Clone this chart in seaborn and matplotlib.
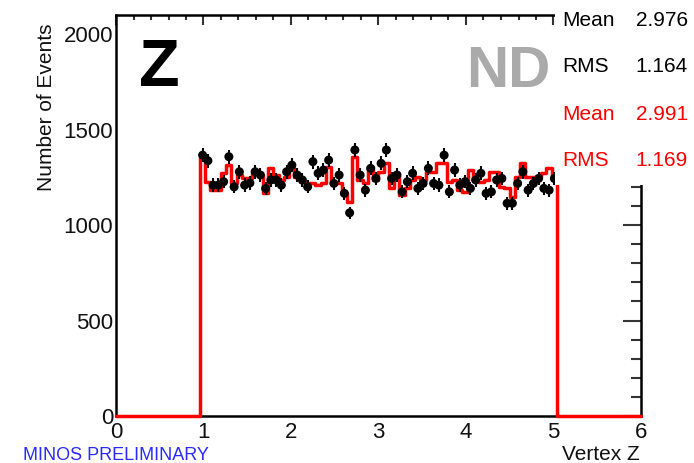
import numpy as np
import pandas as pd
import matplotlib
matplotlib.use("Agg")
import matplotlib.pyplot as plt
from matplotlib.patches import Rectangle
from matplotlib.ticker import MultipleLocator
import seaborn as sns

# Vertex Z distribution, 0.06-wide bins filled between z = 0.96 and z = 5.04
z_min, z_max, n_bins = 0.0, 6.0, 100
first_bin = 16

data_counts = [
    1366, 1337, 1209, 1209, 1227, 1358, 1200, 1279, 1209, 1220,
    1279, 1262, 1192, 1236, 1236, 1209, 1279, 1314, 1262, 1236,
    1200, 1332, 1271, 1288, 1340, 1218, 1262, 1166, 1064, 1393,
    1262, 1183, 1297, 1244, 1323, 1393, 1244, 1262, 1174, 1227,
    1271, 1192, 1218, 1297, 1218, 1209, 1366, 1174, 1288, 1209,
    1227, 1192, 1236, 1271, 1166, 1174, 1236, 1244, 1114, 1114,
    1218, 1279, 1183, 1218, 1244, 1192, 1183, 1244,
]

mc_counts = [
    1349, 1227, 1183, 1183, 1271, 1314, 1218, 1262, 1244, 1244,
    1271, 1262, 1166, 1297, 1262, 1236, 1253, 1297, 1253, 1227,
    1218, 1218, 1209, 1218, 1305, 1218, 1218, 1166, 1123, 1358,
    1236, 1218, 1305, 1236, 1279, 1323, 1192, 1271, 1157, 1192,
    1236, 1253, 1236, 1279, 1279, 1323, 1323, 1227, 1236, 1183,
    1174, 1288, 1236, 1227, 1236, 1279, 1279, 1201, 1192, 1148,
    1253, 1323, 1253, 1253, 1253, 1271, 1297, 1236,
]

stats_labels = ["Mean", "RMS", "Mean", "RMS"]
stats_values = ["2.976", "1.164", "2.991", "1.169"]
stats_colors = ["black", "black", "#ff0000", "#ff0000"]

width = (z_max - z_min) / n_bins
centers = z_min + (first_bin + np.arange(len(data_counts)) + 0.5) * width

df = pd.DataFrame({"z": centers, "data": data_counts, "mc": mc_counts})

sns.set_theme(style="white")
plt.rcParams["font.family"] = ["Liberation Sans", "DejaVu Sans"]

W, H = 694, 463
fig = plt.figure(figsize=(W / 100, H / 100), dpi=100)
left, right, top, bottom = 116, 641, 15, 416
ax = fig.add_axes([left / W, 1 - bottom / H, (right - left) / W, (bottom - top) / H])

# Simulation as a red step outline
sns.histplot(data=df, x="z", weights="mc", bins=n_bins, binrange=(z_min, z_max),
             element="step", fill=False, color="#ff0000", linewidth=2.5, ax=ax,
             zorder=3)
for art in ax.lines + list(ax.patches):
    art.set_clip_on(False)

# Data points with statistical errors
ax.errorbar(df["z"], df["data"], yerr=np.sqrt(df["data"]), fmt="none",
            ecolor="black", elinewidth=1.5, zorder=4)
sns.scatterplot(data=df, x="z", y="data", color="black", s=42, edgecolor="none",
                ax=ax, zorder=5)

ax.set_xlim(z_min, z_max)
ax.set_ylim(0, 2100)
ax.xaxis.set_major_locator(MultipleLocator(1))
ax.xaxis.set_minor_locator(MultipleLocator(0.2))
ax.yaxis.set_major_locator(MultipleLocator(500))
ax.yaxis.set_minor_locator(MultipleLocator(100))

for s in ax.spines.values():
    s.set_linewidth(1.8)
    s.set_color("black")

ax.tick_params(axis="both", which="both", direction="in", top=True, right=True,
               width=1.5, color="#333333", labelsize=16, labelcolor="#111111")
ax.tick_params(axis="y", which="major", length=13, pad=2)
ax.tick_params(axis="y", which="minor", length=7)
ax.tick_params(axis="x", which="major", length=7, pad=4)
ax.tick_params(axis="x", which="minor", length=3.5)

ax.set_ylabel("Number of Events", fontsize=15, color="#111111")
ax.yaxis.label.set_va("center")
ax.yaxis.set_label_coords((46 - left) / (right - left), (bottom - 107) / (bottom - top))
ax.set_xlabel("Vertex Z", fontsize=15, color="#111111")
ax.xaxis.label.set_ha("right")
ax.xaxis.label.set_va("center")
ax.xaxis.set_label_coords((640 - left) / (right - left), (bottom - 454) / (bottom - top))

fig.text(139 / W, 1 - 69 / H, "Z", fontsize=48, fontweight="bold", color="black",
         ha="left", va="center")
fig.text(551 / W, 1 - 72 / H, "ND", fontsize=42, fontweight="bold", color="#aaaaaa",
         ha="right", va="center")
fig.text(23 / W, 1 - 455 / H, "MINOS PRELIMINARY", fontsize=13, color="#2a2aff",
         ha="left", va="center")

# Statistics panel over the upper-right corner
fig.add_artist(Rectangle((555 / W, 1 - 185 / H), (W - 555) / W, 185 / H,
                         transform=fig.transFigure, facecolor="white",
                         edgecolor="none", zorder=10))
rows_y = [20, 66, 115, 161]
for lab, val, col, yy in zip(stats_labels, stats_values, stats_colors, rows_y):
    fig.text(562 / W, 1 - yy / H, lab, fontsize=15, color=col, ha="left",
             va="center", zorder=11)
    fig.text(688 / W, 1 - yy / H, val, fontsize=15, color=col, ha="right",
             va="center", zorder=11)

fig.savefig("out.png", dpi=100, facecolor="white")
